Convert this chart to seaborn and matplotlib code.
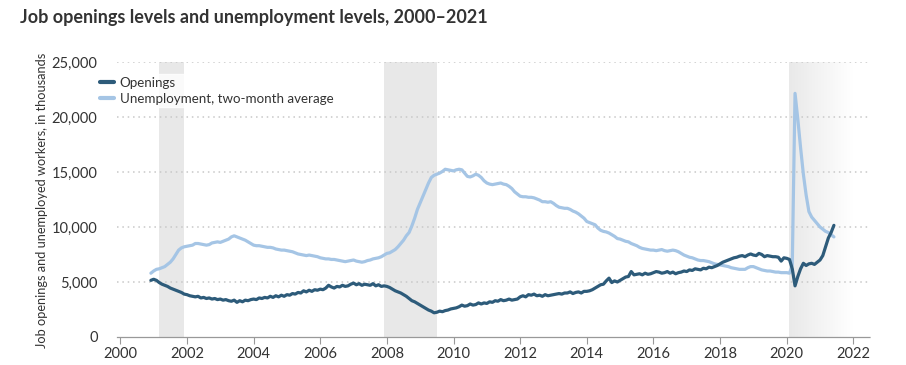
import numpy as np
import pandas as pd
import matplotlib
matplotlib.use("Agg")
import matplotlib.pyplot as plt
from matplotlib.lines import Line2D
import seaborn as sns

# ---- data (thousands), monthly Dec 2000 - Jun 2021 ----
months = pd.date_range("2000-12-01", "2021-06-01", freq="MS")

openings = [
    5150,
    5250, 5150, 4950, 4800, 4700, 4600, 4450, 4350, 4250, 4150, 4050, 3900,  # 2001
    3850, 3750, 3700, 3650, 3700, 3550, 3600, 3500, 3550, 3450, 3500, 3400,  # 2002
    3450, 3350, 3400, 3300, 3250, 3350, 3150, 3300, 3200, 3350, 3300, 3400,  # 2003
    3450, 3400, 3550, 3500, 3600, 3550, 3700, 3600, 3750, 3650, 3800, 3700,  # 2004
    3850, 3800, 3950, 3900, 4050, 4000, 4200, 4100, 4250, 4150, 4300, 4250,  # 2005
    4350, 4300, 4450, 4700, 4550, 4450, 4600, 4550, 4700, 4600, 4650, 4800,  # 2006
    4900, 4750, 4850, 4700, 4800, 4750, 4700, 4850, 4650, 4750, 4600, 4650,  # 2007
    4600, 4500, 4350, 4200, 4100, 4000, 3850, 3700, 3500, 3300, 3200, 3050,  # 2008
    2900, 2750, 2600, 2450, 2350, 2200, 2250, 2350, 2300, 2400, 2450, 2550,  # 2009
    2600, 2650, 2750, 2900, 2800, 2850, 3000, 2900, 2950, 3100, 3000, 3100,  # 2010
    3050, 3200, 3150, 3300, 3250, 3400, 3300, 3350, 3450, 3350, 3400, 3450,  # 2011
    3650, 3750, 3650, 3850, 3800, 3900, 3750, 3800, 3700, 3850, 3750, 3800,  # 2012
    3850, 3900, 3950, 3900, 4000, 4000, 4100, 3950, 4050, 4100, 4000, 4150,  # 2013
    4150, 4200, 4300, 4450, 4600, 4750, 4800, 5100, 5350, 4950, 5100, 5000,  # 2014
    5150, 5300, 5450, 5500, 5950, 5650, 5700, 5750, 5650, 5800, 5700, 5750,  # 2015
    5850, 5950, 5900, 5800, 5850, 5950, 5800, 5900, 5750, 5850, 5900, 6000,  # 2016
    5950, 6100, 6050, 6200, 6150, 6100, 6250, 6200, 6350, 6300, 6400, 6500,  # 2017
    6650, 6800, 6900, 7000, 7100, 7200, 7250, 7350, 7400, 7300, 7450, 7550,  # 2018
    7450, 7400, 7600, 7500, 7300, 7400, 7350, 7300, 7300, 7250, 6900, 7200,  # 2019
    7150, 7050, 6200, 4650, 5500, 6200, 6700, 6500, 6650, 6700, 6600, 6800,  # 2020
    7000, 7400, 8200, 9000, 9500, 10150,                                     # 2021
]

unemployment = [
    5800,
    6000, 6150, 6200, 6300, 6400, 6600, 6800, 7100, 7500, 7900, 8100, 8200,  # 2001
    8250, 8300, 8350, 8500, 8500, 8450, 8400, 8350, 8400, 8550, 8600, 8650,  # 2002
    8600, 8700, 8800, 8900, 9100, 9200, 9100, 9000, 8900, 8800, 8650, 8500,  # 2003
    8350, 8300, 8300, 8250, 8200, 8150, 8150, 8100, 8000, 7950, 7900, 7900,  # 2004
    7850, 7800, 7750, 7650, 7550, 7500, 7450, 7400, 7450, 7400, 7350, 7300,  # 2005
    7200, 7150, 7100, 7100, 7050, 7050, 7000, 6950, 6900, 6850, 6900, 6950,  # 2006
    7000, 6900, 6850, 6800, 6850, 6950, 7000, 7100, 7150, 7200, 7300, 7450,  # 2007
    7600, 7650, 7800, 7950, 8200, 8500, 8800, 9200, 9500, 10100, 10800, 11600,  # 2008
    12200, 12800, 13400, 14000, 14500, 14700, 14800, 14900, 15050, 15250, 15200, 15150,  # 2009
    15100, 15200, 15250, 15200, 14900, 14600, 14550, 14650, 14800, 14700, 14500, 14200,  # 2010
    14000, 13900, 13850, 13900, 13950, 14000, 13900, 13850, 13700, 13500, 13200, 13000,  # 2011
    12800, 12750, 12750, 12700, 12700, 12650, 12550, 12450, 12300, 12300, 12250, 12300,  # 2012
    12150, 11950, 11800, 11750, 11700, 11700, 11600, 11450, 11350, 11200, 11000, 10800,  # 2013
    10500, 10400, 10300, 10200, 9900, 9700, 9600, 9550, 9450, 9300, 9150, 8950,  # 2014
    8900, 8800, 8700, 8650, 8500, 8400, 8300, 8150, 8050, 8000, 7950, 7900,  # 2015
    7900, 7850, 7900, 7950, 7850, 7800, 7850, 7900, 7850, 7750, 7600, 7450,  # 2016
    7350, 7250, 7200, 7100, 7000, 6950, 6950, 6900, 6850, 6750, 6650, 6600,  # 2017
    6550, 6500, 6450, 6400, 6300, 6250, 6200, 6150, 6150, 6150, 6300, 6400,  # 2018
    6400, 6300, 6200, 6100, 6050, 6000, 6000, 5950, 5900, 5900, 5850, 5850,  # 2019
    5850, 5800, 6500, 22150, 19800, 17200, 14800, 12900, 11400, 10900, 10600, 10300,  # 2020
    10000, 9800, 9600, 9500, 9300, 9100,                                     # 2021
]

series_names = ["Openings", "Unemployment, two-month average"]
series_colors = ["#2d5b7a", "#a5c5e5"]
recessions = [(2001.17, 2001.92), (2007.92, 2009.5)]
covid_start, covid_fade_end = 2020.08, 2022.0
x_ticks = list(range(2000, 2023, 2))
y_ticks = [0, 5000, 10000, 15000, 20000, 25000]
title = "Job openings levels and unemployment levels, 2000\u20132021"
ylabel = "Job openings and unemployed workers, in thousands"

# ---- build table ----
year_frac = months.year + (months.month - 1) / 12.0
df = pd.concat([
    pd.DataFrame({"year": year_frac, "value": openings, "series": series_names[0]}),
    pd.DataFrame({"year": year_frac, "value": unemployment, "series": series_names[1]}),
])
palette = dict(zip(series_names, series_colors))

sns.set_style("white")
plt.rcParams["font.family"] = ["Lato", "DejaVu Sans"]

fig = plt.figure(figsize=(9.06, 3.65), dpi=100)
ax = fig.add_axes([117 / 906, 1 - 337 / 365, (870 - 117) / 906, (337 - 62) / 365])

for a, b in recessions:
    ax.axvspan(a, b, color="#e8e8e8", lw=0, zorder=0)

# fading COVID shading
grad = np.linspace(0, 1, 256).reshape(1, -1)
c0 = np.array([233, 233, 233]) / 255.0
c1 = np.array([255, 255, 255]) / 255.0
img = c0[None, None, :] * (1 - grad[..., None]) + c1[None, None, :] * grad[..., None]
ax.imshow(img, extent=[covid_start, covid_fade_end, 0, 25000], aspect="auto", zorder=0)

for yv in y_ticks[1:]:
    ax.axhline(yv, color="#c8c8c8", lw=1.1, ls=(0, (1, 2.5)), zorder=1)

# draw unemployment first, openings on top
sns.lineplot(data=df, x="year", y="value", hue="series", palette=palette,
             hue_order=series_names[::-1], ax=ax, legend=False, lw=2.3)
for ln in ax.get_lines():
    if matplotlib.colors.to_hex(ln.get_color()) == series_colors[0]:
        ln.set_zorder(4)
    else:
        ln.set_zorder(3)

ax.set_xlim(1999.9, 2022.5)
ax.set_ylim(0, 25000)
ax.set_xticks(x_ticks)
ax.set_yticks(y_ticks)
ax.set_yticklabels([f"{v:,}" for v in y_ticks])
ax.tick_params(axis="x", length=5, width=0.8, color="#999999",
               labelsize=10.5, labelcolor="#333333", pad=2, direction="out", bottom=True)
ax.tick_params(axis="y", length=0, labelsize=10.5, labelcolor="#333333", pad=14)
ax.set_xlabel("")
ax.set_ylabel(ylabel, fontsize=9.2, color="#333333")
ax.yaxis.set_label_coords(-0.092, 0.495)

for s in ["top", "right", "left"]:
    ax.spines[s].set_visible(False)
ax.spines["bottom"].set_color("#999999")
ax.spines["bottom"].set_linewidth(0.9)
ax.spines["bottom"].set_linestyle((0, (2, 1)))

handles = [Line2D([0], [0], color=c, lw=3) for c in series_colors]
leg = fig.legend(handles, series_names, loc="upper left",
                 bbox_to_anchor=(97 / 906, 1 - 74 / 365), frameon=True,
                 fontsize=9.6, handlelength=1.1, handletextpad=0.4,
                 labelspacing=0.3, borderpad=0.2, borderaxespad=0)
leg.get_frame().set_facecolor("white")
leg.get_frame().set_edgecolor("white")
for t in leg.get_texts():
    t.set_color("#333333")

fig.text(20 / 906, 1 - 18 / 365, title, fontsize=13, fontweight="bold",
         color="#333333", va="center", ha="left")

fig.savefig("out.png", dpi=100)
